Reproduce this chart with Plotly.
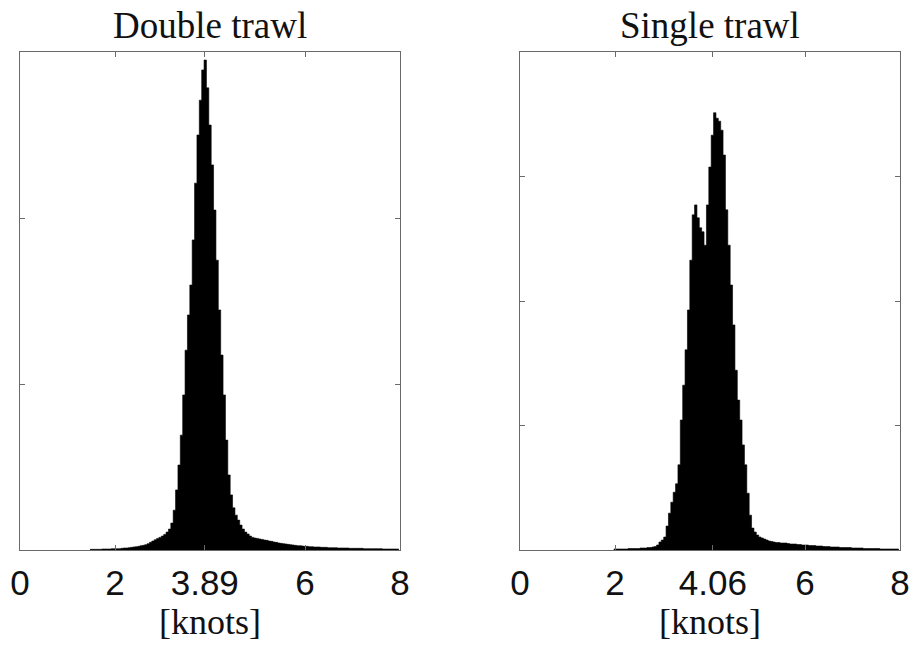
import numpy as np
import plotly.graph_objects as go

# Histogram of towing speed (probability density), fixed-width bins in knots
BIN_WIDTH = 0.05

double_first_center = 1.50
double_density = [
    0.002, 0.002, 0.002, 0.002, 0.002, 0.003, 0.003, 0.003, 0.003, 0.004,
    0.004, 0.004, 0.004, 0.005, 0.006, 0.006, 0.007, 0.008, 0.009, 0.010,
    0.011, 0.013, 0.014, 0.016, 0.019, 0.023, 0.027, 0.031, 0.035, 0.038,
    0.042, 0.047, 0.054, 0.063, 0.081, 0.120, 0.181, 0.256, 0.346, 0.467,
    0.602, 0.708, 0.798, 0.934, 1.105, 1.250, 1.355, 1.446, 1.476, 1.392,
    1.280, 1.160, 1.024, 0.873, 0.723, 0.587, 0.467, 0.331, 0.226, 0.166,
    0.127, 0.105, 0.090, 0.075, 0.063, 0.054, 0.048, 0.042, 0.038, 0.036,
    0.035, 0.033, 0.032, 0.030, 0.029, 0.027, 0.026, 0.024, 0.023, 0.021,
    0.020, 0.019, 0.018, 0.017, 0.016, 0.015, 0.014, 0.013, 0.013, 0.012,
    0.011, 0.011, 0.010, 0.010, 0.009, 0.009, 0.009, 0.008, 0.008, 0.008,
    0.007, 0.007, 0.007, 0.007, 0.006, 0.006, 0.006, 0.006, 0.006, 0.005,
    0.005, 0.005, 0.005, 0.005, 0.005, 0.004, 0.004, 0.004, 0.004, 0.004,
    0.004, 0.004, 0.004, 0.003, 0.003, 0.003, 0.003, 0.003, 0.003, 0.003,
]

single_first_center = 2.00
single_density = [
    0.002, 0.002, 0.002, 0.002, 0.002, 0.002, 0.003, 0.003, 0.003, 0.003,
    0.003, 0.004, 0.004, 0.004, 0.005, 0.005, 0.006, 0.007, 0.010, 0.016,
    0.020, 0.026, 0.048, 0.074, 0.096, 0.116, 0.133, 0.171, 0.261, 0.331,
    0.402, 0.482, 0.582, 0.673, 0.693, 0.667, 0.647, 0.639, 0.612, 0.693,
    0.769, 0.833, 0.878, 0.867, 0.861, 0.843, 0.793, 0.683, 0.612, 0.532,
    0.452, 0.361, 0.301, 0.261, 0.211, 0.171, 0.114, 0.070, 0.044, 0.036,
    0.030, 0.026, 0.024, 0.022, 0.020, 0.018, 0.017, 0.016, 0.015, 0.015,
    0.014, 0.014, 0.014, 0.013, 0.012, 0.012, 0.012, 0.011, 0.011, 0.010,
    0.010, 0.010, 0.009, 0.009, 0.009, 0.008, 0.008, 0.008, 0.007, 0.007,
    0.007, 0.006, 0.006, 0.006, 0.006, 0.005, 0.005, 0.005, 0.005, 0.005,
    0.004, 0.004, 0.004, 0.004, 0.004, 0.003, 0.003, 0.003, 0.003, 0.003,
    0.003, 0.003, 0.002, 0.002, 0.002, 0.002, 0.002, 0.002, 0.002, 0.002,
]

panel_titles = ["Double trawl", "Single trawl"]
x_label = "[knots]"
double_ticks = [0, 2, 3.89, 6, 8]
double_ticktext = ["0", "2", "3.89", "6", "8"]
single_ticks = [0, 2, 4.06, 6, 8]
single_ticktext = ["0", "2", "4.06", "6", "8"]
double_yticks = [0.5, 1.0]
single_yticks = [0.25, 0.5, 0.75]

W, H = 911, 646
AX_COLOR = "#6a6a6a"
TICK_FONT = dict(family="Liberation Sans Narrow, Arial Narrow, Liberation Sans, Arial",
                 size=35, color="#111111")
SERIF = "Liberation Serif, Times New Roman, serif"


def step_outline(first_center, density):
    """Bin edges and heights for a filled step (histogram) outline."""
    n = len(density)
    edges = first_center - BIN_WIDTH / 2 + BIN_WIDTH * np.arange(n + 1)
    heights = list(density) + [density[-1]]
    return edges, heights


def hist_trace(first_center, density, xa, ya):
    edges, heights = step_outline(first_center, density)
    return go.Scatter(
        x=edges, y=heights, mode="lines", line=dict(shape="hv", color="black", width=0.6),
        fill="tozeroy", fillcolor="black", xaxis=xa, yaxis=ya,
        showlegend=False, hoverinfo="skip",
    )


fig = go.Figure()
fig.add_trace(hist_trace(double_first_center, double_density, "x", "y"))
fig.add_trace(hist_trace(single_first_center, single_density, "x2", "y2"))

left_dom = [20 / W, 400 / W]
right_dom = [520 / W, 900 / W]
y_dom = [(H - 550) / H, (H - 52) / H]


def xaxis(dom, anchor, vals, text):
    return dict(
        domain=dom, anchor=anchor, range=[0, 8], automargin=False,
        tickmode="array", tickvals=vals, ticktext=text,
        ticks="inside", ticklen=5, tickcolor=AX_COLOR, tickwidth=1,
        showline=True, linecolor=AX_COLOR, linewidth=1, mirror="ticks",
        showgrid=False, zeroline=False, tickfont=TICK_FONT,
        ticklabelstandoff=2,
        title=dict(text=x_label, font=dict(family=SERIF, size=36, color="#111111"),
                   standoff=2),
    )


def yaxis(dom, anchor, top, vals):
    return dict(
        domain=dom, anchor=anchor, range=[0, top], automargin=False,
        tickmode="array", tickvals=vals, showticklabels=False,
        ticks="inside", ticklen=5, tickcolor=AX_COLOR, tickwidth=1,
        showline=True, linecolor=AX_COLOR, linewidth=1, mirror="ticks",
        showgrid=False, zeroline=False,
    )


fig.update_layout(
    width=W, height=H,
    margin=dict(l=0, r=0, t=0, b=0),
    paper_bgcolor="white", plot_bgcolor="white",
    xaxis=xaxis(left_dom, "y", double_ticks, double_ticktext),
    yaxis=yaxis(y_dom, "x", 1.5, double_yticks),
    xaxis2=xaxis(right_dom, "y2", single_ticks, single_ticktext),
    yaxis2=yaxis(y_dom, "x2", 1.0, single_yticks),
)

for dom, title in zip([left_dom, right_dom], panel_titles):
    fig.add_annotation(
        text=title, xref="paper", yref="paper",
        x=(dom[0] + dom[1]) / 2, y=(H - 25) / H,
        xanchor="center", yanchor="middle", showarrow=False,
        font=dict(family=SERIF, size=37, color="#111111"),
    )

fig.write_html("out.html")
